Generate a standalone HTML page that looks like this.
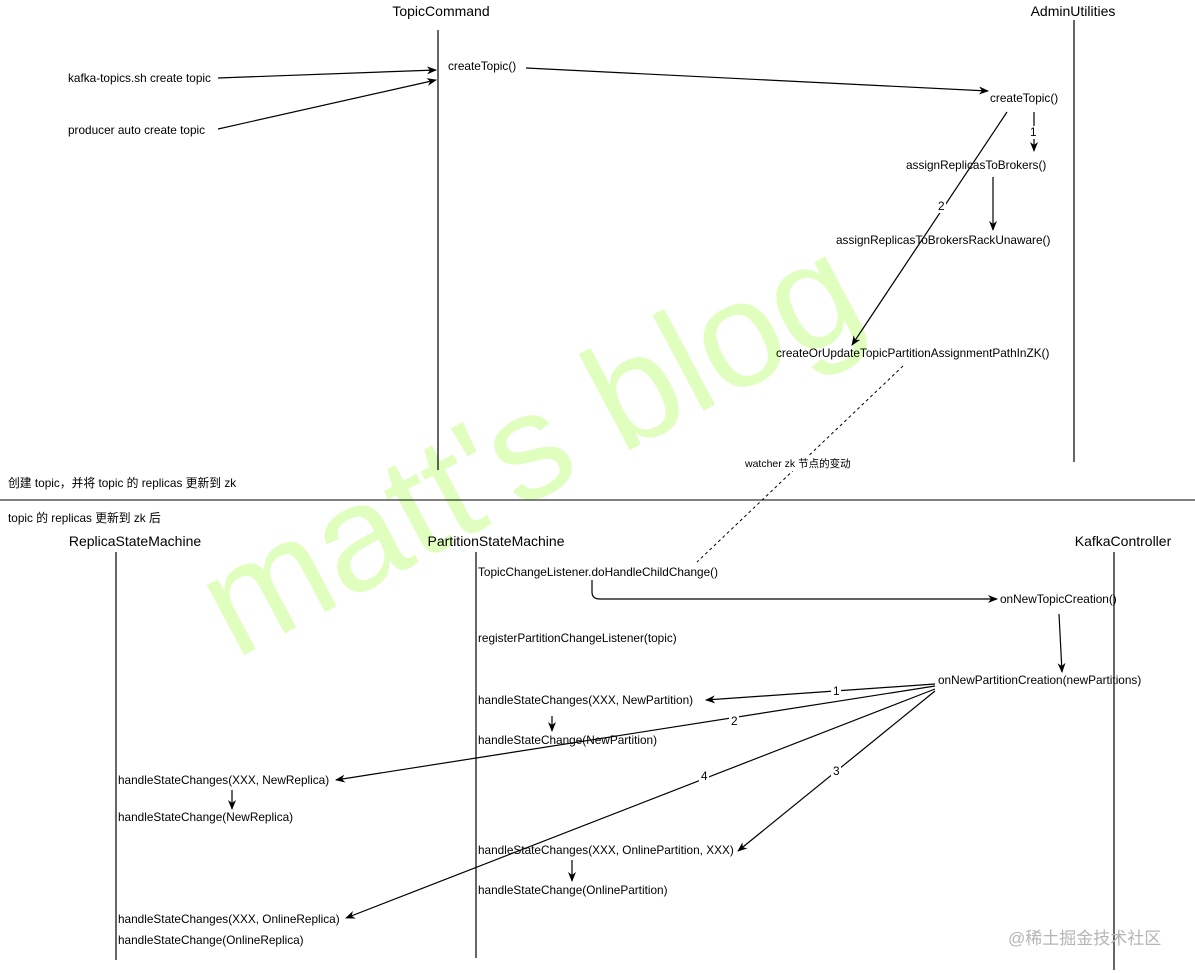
<!DOCTYPE html>
<html><head><meta charset="utf-8"><style>
html,body{margin:0;padding:0;background:#fff;}
svg{display:block;}
text{font-family:"Liberation Sans","Noto Sans CJK SC",sans-serif;fill:#000;}
.s{font-size:11.8px;}
.t{font-size:14px;}
</style></head><body>
<svg width="1195" height="973" viewBox="0 0 1195 973" xmlns="http://www.w3.org/2000/svg">
<defs>
<marker id="a" markerWidth="10" markerHeight="10" refX="9" refY="5" orient="auto" markerUnits="userSpaceOnUse">
<path d="M0,1 L10,5 L0,9 L3,5 z" fill="#000"/></marker>
</defs>
<text x="235" y="660" transform="rotate(-28 235 660)" font-size="150" style="fill:#e0ffbf;font-family:'Liberation Sans',sans-serif">matt's blog</text>

<g stroke="#000" stroke-width="1.2" fill="none">
<line x1="438" y1="30" x2="438" y2="470"/>
<line x1="1074" y1="20" x2="1074" y2="462"/>
<line x1="0" y1="500" x2="1195" y2="500" stroke-width="1"/>
<line x1="116" y1="552" x2="116" y2="960"/>
<line x1="476" y1="552" x2="476" y2="958"/>
<line x1="1114" y1="552" x2="1114" y2="970"/>

<line x1="218" y1="78" x2="436" y2="70" marker-end="url(#a)"/>
<line x1="218" y1="129" x2="436" y2="80" marker-end="url(#a)"/>
<line x1="526" y1="68" x2="988" y2="91" marker-end="url(#a)"/>
<line x1="1034" y1="112" x2="1034" y2="151" marker-end="url(#a)"/>
<line x1="993" y1="177" x2="993" y2="230" marker-end="url(#a)"/>
<line x1="1007" y1="112" x2="852" y2="345" marker-end="url(#a)"/>
<line x1="903" y1="366" x2="697" y2="562" stroke-dasharray="3,3" stroke-width="1"/>
<path d="M592,580 L592,592 Q592,599 600,599 L997,599" marker-end="url(#a)"/>
<line x1="1059" y1="614" x2="1062" y2="672" marker-end="url(#a)"/>
<line x1="935" y1="684" x2="706" y2="700" marker-end="url(#a)"/>
<line x1="552" y1="716" x2="552" y2="731" marker-end="url(#a)"/>
<line x1="935" y1="686" x2="336" y2="780" marker-end="url(#a)"/>
<line x1="232" y1="790" x2="232" y2="809" marker-end="url(#a)"/>
<line x1="935" y1="691" x2="738" y2="851" marker-end="url(#a)"/>
<line x1="572" y1="860" x2="572" y2="881" marker-end="url(#a)"/>
<line x1="935" y1="689" x2="346" y2="918" marker-end="url(#a)"/>
</g>

<g class="t">
<text x="441" y="16" text-anchor="middle" class="t">TopicCommand</text>
<text x="1073" y="16" text-anchor="middle" class="t">AdminUtilities</text>
<text x="135" y="546" text-anchor="middle" class="t">ReplicaStateMachine</text>
<text x="496" y="546" text-anchor="middle" class="t">PartitionStateMachine</text>
<text x="1123" y="546" text-anchor="middle" class="t">KafkaController</text>
</g>

<g class="s">
<rect x="1028" y="126" width="10" height="13" fill="#fff"/>
<text x="1030" y="136" class="s">1</text>
<rect x="936" y="200" width="10" height="13" fill="#fff"/>
<text x="938" y="210" class="s">2</text>
<rect x="742" y="456" width="116" height="15" fill="#fff"/>
<text x="745" y="467" style="font-size:10.5px">watcher zk 节点的变动</text>
<rect x="831" y="685" width="10" height="13" fill="#fff"/>
<text x="833" y="695" class="s">1</text>
<rect x="729" y="714" width="10" height="13" fill="#fff"/>
<text x="731" y="725" class="s">2</text>
<rect x="831" y="764" width="10" height="13" fill="#fff"/>
<text x="833" y="775" class="s">3</text>
<rect x="699" y="769" width="10" height="13" fill="#fff"/>
<text x="701" y="780" class="s">4</text>

<text x="68" y="82" class="s">kafka-topics.sh create topic</text>
<text x="68" y="134" class="s">producer auto create topic</text>
<text x="448" y="70" class="s">createTopic()</text>
<text x="990" y="102" class="s">createTopic()</text>
<text x="906" y="169" class="s">assignReplicasToBrokers()</text>
<text x="836" y="244" class="s">assignReplicasToBrokersRackUnaware()</text>
<text x="776" y="357" class="s">createOrUpdateTopicPartitionAssignmentPathInZK()</text>
<text x="8" y="487" class="s">创建 topic，并将 topic 的 replicas 更新到 zk</text>
<text x="8" y="522" class="s">topic 的 replicas 更新到 zk 后</text>
<text x="478" y="576" class="s">TopicChangeListener.doHandleChildChange()</text>
<text x="1000" y="603" class="s">onNewTopicCreation()</text>
<text x="478" y="642" class="s">registerPartitionChangeListener(topic)</text>
<text x="938" y="684" class="s">onNewPartitionCreation(newPartitions)</text>
<text x="478" y="704" class="s">handleStateChanges(XXX, NewPartition)</text>
<text x="478" y="744" class="s">handleStateChange(NewPartition)</text>
<text x="118" y="784" class="s">handleStateChanges(XXX, NewReplica)</text>
<text x="118" y="821" class="s">handleStateChange(NewReplica)</text>
<text x="478" y="854" class="s">handleStateChanges(XXX, OnlinePartition, XXX)</text>
<text x="478" y="894" class="s">handleStateChange(OnlinePartition)</text>
<text x="118" y="923" class="s">handleStateChanges(XXX, OnlineReplica)</text>
<text x="118" y="944" class="s">handleStateChange(OnlineReplica)</text>
</g>
<text x="1008" y="944" style="font-size:17px;fill:#b5b5b5">@稀土掘金技术社区</text>
</svg>
</body></html>
